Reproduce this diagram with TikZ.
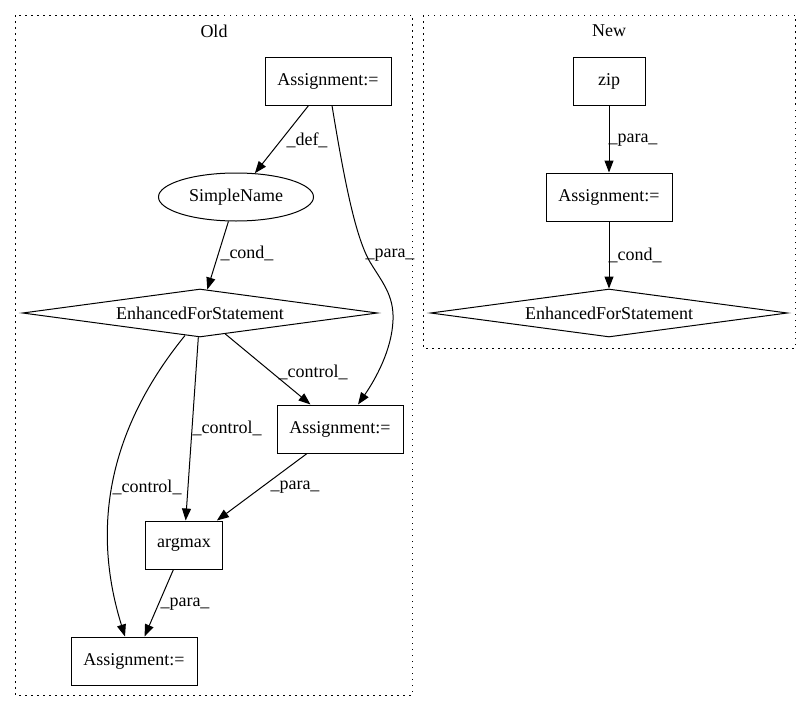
\documentclass[tikz,border=0pt]{standalone}
\usepackage{fontspec}
\setmainfont{Liberation Serif}
\usetikzlibrary{shapes.geometric,arrows.meta}
\begin{document}
\begin{tikzpicture}[x=1pt,y=-1pt,
    every node/.style={font=\fontsize{18}{22}\selectfont},
    box/.style={draw,line width=1pt,inner sep=0pt,minimum height=48pt},
    oval/.style={draw,ellipse,line width=1pt,inner sep=0pt,minimum width=155pt,minimum height=48pt},
    cond/.style={draw,diamond,aspect=7.4,line width=1pt,inner sep=0pt,minimum width=355pt,minimum height=48pt},
    edge/.style={line width=1pt,-{Triangle[length=12pt,width=9pt]}},
    cluster/.style={dash pattern=on 1.5pt off 4.5pt,line width=1pt}]
  \useasboundingbox (0,0) rectangle (811,712);
  % clusters
  \draw[cluster] (15,15) rectangle (412,695);
  \node (oldTitle) at (214,31) {Old};
  \draw[cluster] (423,15) rectangle (795,348);
  \node (newTitle) at (609,31) {New};

  % Old
  \node[box,minimum width=126pt] (oldA) at (328,81) {Assignment:=};
  \node[oval] (oldName) at (236,197) {SimpleName};
  \node[cond] (oldFor) at (200,313) {EnhancedForStatement};
  \node[box,minimum width=126pt] (oldB) at (340,429) {Assignment:=};
  \node[box,minimum width=77pt] (oldMax) at (184,545) {argmax};
  \node[box,minimum width=126pt] (oldC) at (134,661) {Assignment:=};

  % New
  \node[box,minimum width=72pt] (newZip) at (609,81) {zip};
  \node[box,minimum width=126pt] (newA) at (609,197) {Assignment:=};
  \node[cond,minimum width=357pt] (newFor) at (609,313) {EnhancedForStatement};

  % edges
  \draw[edge] (oldA) -- (oldName);
  \draw[edge] (oldName) -- (oldFor);
  \draw[edge] ([xshift=4pt]oldA.south) .. controls (345,185) and (356,238) .. (370,262)
                 .. controls (382,282) and (394,295) .. (393,320)
                 .. controls (392,350) and (375,380) .. ([xshift=18pt]oldB.north);
  \draw[edge] (oldFor) -- (oldB);
  \draw[edge] (oldFor) -- (oldMax);
  \draw[edge] ([xshift=-15pt,yshift=2pt]oldFor.south) .. controls (100,440) and (95,540) .. ([xshift=-9pt]oldC.north);
  \draw[edge] (oldB) -- (oldMax);
  \draw[edge] (oldMax) -- (oldC);
  \draw[edge] (newZip) -- (newA);
  \draw[edge] (newA) -- (newFor);

  % labels
  \node (lDef) at (307,140) {\_def\_};
  \node (lCond) at (247,253) {\_cond\_};
  \node (lPara) at (390,255) {\_para\_};
  \node (lCtrlB) at (313,372) {\_control\_};
  \node (lCtrlMax) at (227,428) {\_control\_};
  \node (lCtrlC) at (147,487) {\_control\_};
  \node (lParaMax) at (295,487) {\_para\_};
  \node (lParaC) at (185,604) {\_para\_};
  \node (lParaNew) at (633,140) {\_para\_};
  \node (lCondNew) at (635,255) {\_cond\_};
\end{tikzpicture}
\end{document}
